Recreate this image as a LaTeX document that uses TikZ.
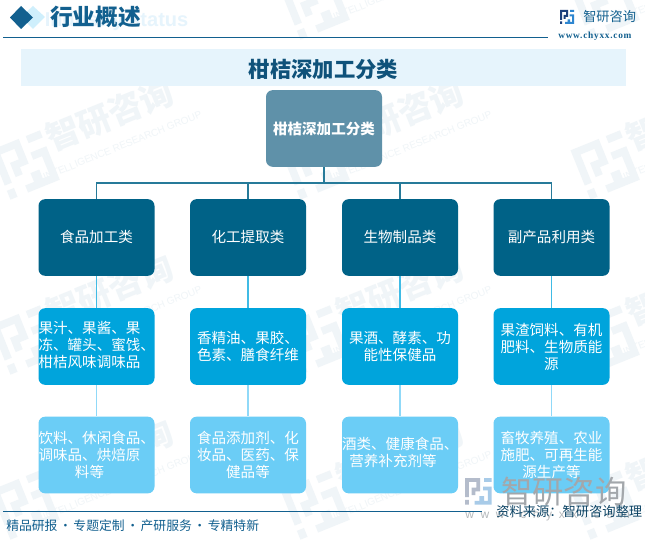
\documentclass[tikz,border=0pt]{standalone}
\usepackage{fontspec}
\setmainfont{Noto Sans CJK SC}
\newfontfamily\latinsans{Liberation Sans}
\newfontfamily\latinserif{Liberation Serif}
\definecolor{rootc}{HTML}{5F91A9}
\definecolor{levela}{HTML}{006287}
\definecolor{levelb}{HTML}{00A4DC}
\definecolor{levelc}{HTML}{6BCDF6}
\definecolor{band}{HTML}{E6F4FC}
\definecolor{heading}{HTML}{12608F}
\definecolor{navy}{HTML}{1C3F7C}
\definecolor{logoblue}{HTML}{2E86D0}
\definecolor{wmark}{HTML}{F0F5F8}
\definecolor{bigmark}{HTML}{A3A7AB}
\definecolor{bigleft}{HTML}{B4BCCB}
\definecolor{bigright}{HTML}{A8CBE8}
\tikzset{
  x=0.75pt,y=-0.75pt,
  box/.style={rectangle,rounded corners=5pt,minimum width=87pt,minimum height=57.5pt,inner sep=0pt,text=white,align=center,font=\fontsize{10.9pt}{12.75pt}\selectfont},
  rootbox/.style={box,fill=rootc,font=\bfseries\fontsize{10.9pt}{12.75pt}\selectfont},
  boxa/.style={box,fill=levela},
  boxb/.style={box,fill=levelb},
  boxc/.style={box,fill=levelc},
  shifted/.style={text=white,align=center,inner sep=0pt,font=\fontsize{10.9pt}{12.75pt}\selectfont},
  linktop/.style={draw=levela!85!white,line width=0.9pt},
  linkb/.style={draw=levelb!75!white,line width=0.8pt},
  linkc/.style={draw=levelc!75!white,line width=0.8pt},
  pics/logomark/.style args={#1/#2}{code={
    \fill[#1] (0,0) rectangle (8,2) (0,0) rectangle (2,10) (0,11.5) rectangle (2,14) (6,0) rectangle (8,7) (3.5,5) rectangle (8,7) (3.5,5) rectangle (5.5,9);
    \fill[#2] (10,0) rectangle (14,2) (9.5,4.5) rectangle (14,6.5) (12,4.5) rectangle (14,14) (5,12) rectangle (14,14) (7.5,9.5) rectangle (10,12);
  }}
}
\newcommand{\wm}[2]{%
  \begin{scope}[shift={(#1,#2)},rotate=22,transform shape]
    \node[text=wmark,font=\bfseries\fontsize{25pt}{27pt}\selectfont] (wmt#1x#2) at (0,0) {智研咨询};
    \node[text=wmark,font=\latinsans\fontsize{7.5pt}{8pt}\selectfont] (wms#1x#2) at (0,33) {INTELLIGENCE RESEARCH GROUP};
    \pic[scale=3.8] at (-124,-12) {logomark={wmark/wmark}};
  \end{scope}}
\begin{document}
\begin{tikzpicture}
\useasboundingbox (0,0) rectangle (645,541);
\fill[white] (0,0) rectangle (645,541);
\begin{scope}
\clip (0,0) rectangle (645,541);
\wm{110}{115}\wm{110}{290}\wm{110}{455}
\wm{400}{-45}\wm{400}{115}\wm{400}{290}\wm{400}{455}
\wm{690}{-45}\wm{690}{115}\wm{690}{290}\wm{690}{455}
\end{scope}
% header
\node[anchor=east,text=band,font=\latinsans\bfseries\fontsize{15pt}{16pt}\selectfont] (ghost) at (193,21) {Industry status};
\fill[levelc!45!white,opacity=.7] (33,6) -- (45,17) -- (33,29) -- (21,17) -- cycle;
\fill[heading] (21,6) -- (33,17.5) -- (21,29) -- (10,17.5) -- cycle;
\node[anchor=west,inner sep=0pt,text=heading,font=\bfseries\fontsize{17pt}{18pt}\selectfont] (headtitle) at (50,17) {行业概述};
\draw[heading,line width=0.75pt] (3,37.5) -- (548,37.5);
\pic at (560,10) {logomark={navy/logoblue}};
\node[anchor=west,inner sep=0pt,text=heading,font=\fontsize{9.9pt}{10pt}\selectfont] (brand) at (583,17) {智研咨询};
\node[anchor=west,inner sep=0pt,text=heading,font=\latinserif\bfseries\addfontfeature{LetterSpace=8}\fontsize{7pt}{8pt}\selectfont] (url) at (558,36) {www.chyxx.com};
% title band
\fill[band] (21,49) rectangle (626,86);
\node[text=heading!85!black,font=\bfseries\fontsize{16pt}{17pt}\selectfont] (title) at (323.5,69) {柑桔深加工分类};
% boxes
\node[rootbox] (root) at (324,128.5) {\raisebox{1pt}{柑桔深加工分类}};
\node[boxa] (a1) at (96.5,237.5) {\raisebox{1.5pt}{食品加工类}};
\node[boxa] (a2) at (248,237.5) {\raisebox{1.5pt}{化工提取类}};
\node[boxa] (a3) at (400,237.5) {\raisebox{1.5pt}{生物制品类}};
\node[boxa] (a4) at (551.5,237.5) {\raisebox{1.5pt}{副产品利用类}};
\node[boxb] (b1) at (96.5,346.5) {};
\node[shifted] (tb1) at (89.5,345) {果汁、果酱、果\\冻、罐头、蜜饯\rlap{、}\\柑桔风味调味品};
\node[boxb] (b2) at (248,346.5) {\raisebox{0.6pt}{香精油、果胶、}\\\raisebox{0.6pt}{色素、膳食纤维}};
\node[boxb] (b3) at (400,346.5) {\raisebox{0.6pt}{果酒、酵素、功}\\\raisebox{0.6pt}{能性保健品}};
\node[boxb] (b4) at (551.5,346.5) {\raisebox{0.6pt}{果渣饲料、有机}\\\raisebox{0.6pt}{肥料、生物质能}\\\raisebox{0.6pt}{源}};
\node[boxc] (c1) at (96.5,455) {};
\node[shifted] (tc1) at (89.5,454.5) {饮料、休闲食品\rlap{、}\\调味品、烘焙原\\料等};
\node[boxc] (c2) at (248,455) {食品添加剂、化\\妆品、医药、保\\健品等};
\node[boxc] (c3) at (400,455) {};
\node[shifted] (tc3) at (393,452) {酒类、健康食品\rlap{、}\\营养补充剂等};
\node[boxc] (c4) at (551.5,455) {畜牧养殖、农业\\施肥、可再生能\\源生产等};
% connectors
\coordinate (bar) at (324,183);
\draw[linktop] (root.south) -- (bar);
\foreach \n in {a1,a2,a3,a4}{\draw[linktop] (bar) -| (\n.north);}
\foreach \n in {1,2,3,4}{
  \draw[linkb] (a\n.south) -- (b\n.north);
  \draw[linkc] (b\n.south) -- (c\n.north);
}
% bottom right mark
\pic[scale=1.9] at (465,478) {logomark={bigleft/bigright}};
\node[anchor=west,inner sep=0pt,text=bigmark,font=\fontsize{23.5pt}{25pt}\selectfont] (bigbrand) at (501,492) {智研咨询};
\node[anchor=west,inner sep=0pt,text=bigmark!80!white,font=\latinsans\addfontfeature{LetterSpace=55}\fontsize{9pt}{10pt}\selectfont] (bigurl) at (465,515) {www.chyxx.com};
% footer
\draw[heading,line width=0.75pt] (3,511) -- (482,511);
\node[anchor=west,inner sep=0pt,text=heading,font=\fontsize{9.6pt}{10pt}\selectfont] (footer) at (6,526) {精品研报\makebox[12pt]{·}专题定制\makebox[12pt]{·}产研服务\makebox[12pt]{·}专精特新};
\node[anchor=west,inner sep=0pt,text=heading!70!black,font=\fontsize{9.95pt}{10pt}\selectfont] (source) at (496,512) {资料来源：智研咨询整理};
\end{tikzpicture}
\end{document}
